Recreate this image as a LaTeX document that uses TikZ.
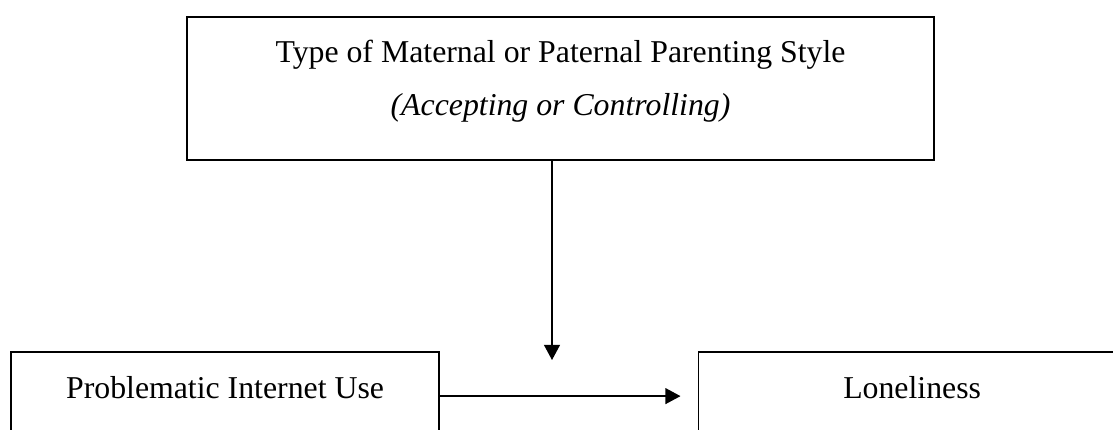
\documentclass[tikz,border=0pt]{standalone}
\usepackage{fontspec}
\setmainfont{Liberation Serif}
\usetikzlibrary{arrows.meta,positioning}

\tikzset{
  box/.style={draw, rectangle, line width=0.5pt, align=center, inner sep=0pt,
    font=\fontsize{12}{20}\selectfont},
  lowbox/.style={box, minimum width=161.5pt, minimum height=36.2pt,
    text height=8pt, text depth=9.5pt},
  link/.style={line width=0.5pt, -{Triangle[length=5.7pt,width=6pt]}}
}

\begin{document}
\begin{tikzpicture}[x=0.3774pt,y=-0.3774pt,on grid]
			\useasboundingbox (0,0) rectangle (1113,429);
			\clip (0,0) rectangle (1113,429);
			\node[box, minimum width=281.9pt, minimum height=54pt] (style) at (560.5,88.5)
				{Type of Maternal or Paternal Parenting Style\\
				\textit{(Accepting or Controlling)}\rule[-8pt]{0pt}{0pt}};
			\node[lowbox] (piu) [below left=117.6pt and 126.6pt of style] {Problematic Internet Use};
			\node[lowbox] (lone) [right=259.3pt of piu] {Loneliness};
			\coordinate (vend) at (552,360);
			\coordinate (hend) at ([shift={(-17,-4)}]lone.west);
			\path[link]
			([shift={(-8.5,0)}]style.south) edge (vend)
			([shift={(0,-4)}]piu.east) edge (hend);
		\end{tikzpicture}
\end{document}
